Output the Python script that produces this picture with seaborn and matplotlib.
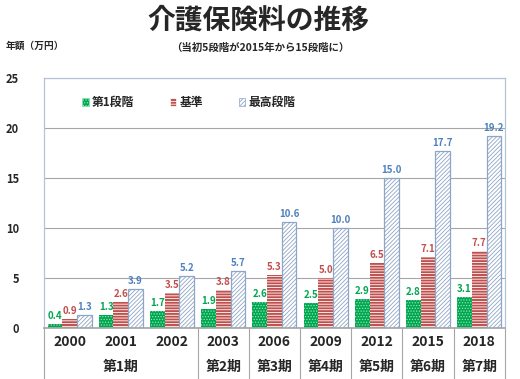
import matplotlib
matplotlib.use("Agg")
import matplotlib.pyplot as plt
import matplotlib.transforms as mtransforms
from matplotlib.patches import Patch
import pandas as pd
import seaborn as sns

# Data
years = ["2000", "2001", "2002", "2003", "2006", "2009", "2012", "2015", "2018"]
periods = ["第1期", "第2期", "第3期", "第4期", "第5期", "第6期", "第7期"]
period_span = [(0, 2), (3, 3), (4, 4), (5, 5), (6, 6), (7, 7), (8, 8)]
series = ["第1段階", "基準", "最高段階"]
stage1 = [0.4, 1.3, 1.7, 1.9, 2.6, 2.5, 2.9, 2.8, 3.1]
standard = [0.9, 2.6, 3.5, 3.8, 5.3, 5.0, 6.5, 7.1, 7.7]
highest = [1.3, 3.9, 5.2, 5.7, 10.6, 10.0, 15.0, 17.7, 19.2]

df = pd.DataFrame({"year": years * 3,
                   "stage": [s for s in series for _ in years],
                   "value": stage1 + standard + highest})

sns.set_theme(style="white")
plt.rcParams["font.family"] = ["Noto Sans CJK JP", "DejaVu Sans"]
plt.rcParams["hatch.linewidth"] = 0.6

face = {"第1段階": "#00A650", "基準": "#C0504D", "最高段階": "#FFFFFF"}
hatch_col = {"第1段階": "#8FE6B4", "基準": "#FFFFFF", "最高段階": "#8FA8C8"}
hatches = {"第1段階": "......", "基準": "------", "最高段階": "////////"}
label_col = {"第1段階": "#00A650", "基準": "#C0504D", "最高段階": "#4F81BD"}

fig = plt.figure(figsize=(5.2, 3.79), dpi=100)
ax = fig.add_axes([0.0846, 0.1346, 0.8864, 0.6594])

sns.barplot(data=df, x="year", y="value", hue="stage", palette=face,
            width=0.86, gap=0, saturation=1, legend=False, ax=ax)

for cont, s in zip(ax.containers, series):
    for bar in cont:
        bar.set_hatch(hatches[s])
        bar.set_edgecolor(hatch_col[s])
        bar.set_linewidth(0)
        if s == "最高段階":
            bar.set_edgecolor("#8EA6C6")
            bar.set_linewidth(0.9)
    ax.bar_label(cont, fmt="%.1f", padding=2, color=label_col[s],
                 fontsize=7, fontweight="bold")

ax.set_ylim(0, 25)
ax.set_yticks([0, 5, 10, 15, 20, 25])
ax.set_yticklabels(["0", "5", "10", "15", "20", "25"], fontsize=8, fontweight="bold")
ax.tick_params(axis="y", length=0, pad=18)
ax.tick_params(axis="x", length=0, pad=5, labelsize=10)
for t in ax.get_xticklabels():
    t.set_fontweight("bold")
ax.set_xlim(-0.5, 8.5)
ax.set_xlabel("")
ax.set_ylabel("")
ax.yaxis.grid(True, color="#A6A6A6", linewidth=0.8)
ax.set_axisbelow(True)
for side in ["left", "right", "top"]:
    ax.spines[side].set_color("#B4C4D8")
    ax.spines[side].set_linewidth(0.9)
ax.spines["bottom"].set_color("#A6A6A6")

# period labels and separators below the axis
trans = mtransforms.blended_transform_factory(ax.transData, ax.transAxes)
for x in [-0.5, 2.5, 3.5, 4.5, 5.5, 6.5, 7.5, 8.5]:
    ax.plot([x, x], [0, -0.21], transform=trans, color="#A6A6A6",
            linewidth=0.8, clip_on=False)
for name, (a, b) in zip(periods, period_span):
    ax.text((a + b) / 2, -0.155, name, transform=trans, ha="center", va="center",
            fontsize=10, fontweight="bold")

# legend
handles = [Patch(facecolor=face[s], edgecolor=hatch_col[s] if s != "最高段階" else "#8EA6C6",
                 hatch=hatches[s], linewidth=0.5) for s in series]
ax.legend(handles, series, loc="upper left", bbox_to_anchor=(0.06, 0.97), ncol=3,
          frameon=False, prop={"weight": "bold", "size": 8.5}, handlelength=0.55,
          handleheight=0.55, handletextpad=0.3, columnspacing=3.0)

fig.text(0.497, 0.945, "介護保険料の推移", ha="center", va="center",
         fontsize=20, fontweight="bold")
fig.text(0.5, 0.873, "（当初5段階が2015年から15段階に）", ha="center", va="center",
         fontsize=7.5, fontweight="bold")
fig.text(0.01, 0.88, "年額（万円）", ha="left", va="center", fontsize=7, fontweight="bold")

fig.savefig("out.png", dpi=100)
